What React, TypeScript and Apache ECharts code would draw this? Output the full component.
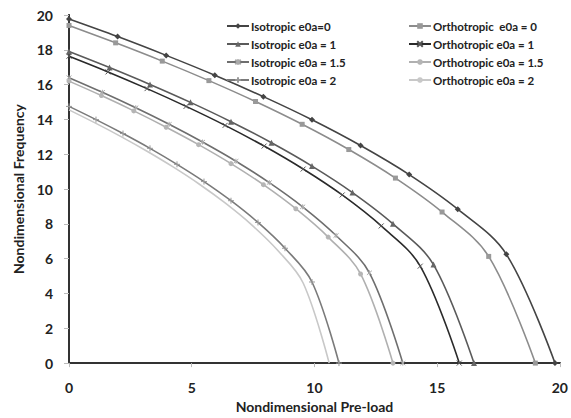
import React, { useEffect, useRef } from "react";
import * as echarts from "echarts";

const isoX0 = [0, 1.98, 3.96, 5.94, 7.92, 9.9, 11.88, 13.86, 15.84, 17.82, 19.8];
const isoY0 = [19.77, 18.76, 17.68, 16.54, 15.31, 13.98, 12.5, 10.83, 8.84, 6.25, 0];
const orthoX0 = [0, 1.9, 3.8, 5.7, 7.6, 9.5, 11.4, 13.3, 15.2, 17.1, 19.0];
const orthoY0 = [19.4, 18.4, 17.35, 16.23, 15.03, 13.72, 12.27, 10.63, 8.68, 6.13, 0];
const isoX1 = [0, 1.65, 3.3, 4.95, 6.6, 8.25, 9.9, 11.55, 13.2, 14.85, 16.5];
const isoY1 = [17.9, 16.98, 16.01, 14.98, 13.87, 12.66, 11.32, 9.8, 8.0, 5.66, 0];
const orthoX1 = [0, 1.59, 3.18, 4.77, 6.36, 7.95, 9.54, 11.13, 12.72, 14.31, 15.9];
const orthoY1 = [17.63, 16.73, 15.77, 14.75, 13.66, 12.47, 11.15, 9.66, 7.88, 5.57, 0];
const isoX15 = [0, 1.36, 2.72, 4.08, 5.44, 6.8, 8.16, 9.52, 10.88, 12.24, 13.6];
const isoY15 = [16.4, 15.56, 14.67, 13.72, 12.7, 11.6, 10.37, 8.98, 7.33, 5.19, 0];
const orthoX15 = [0, 1.32, 2.64, 3.96, 5.28, 6.6, 7.92, 9.24, 10.56, 11.88, 13.2];
const orthoY15 = [16.2, 15.37, 14.49, 13.55, 12.55, 11.46, 10.25, 8.87, 7.24, 5.12, 0];
const isoX2 = [0, 1.1, 2.2, 3.3, 4.4, 5.5, 6.6, 7.7, 8.8, 9.9, 11.0];
const isoY2 = [14.75, 13.99, 13.19, 12.34, 11.42, 10.43, 9.33, 8.08, 6.6, 4.66, 0];
const orthoX2 = [0, 1.06, 2.12, 3.18, 4.24, 5.3, 6.36, 7.42, 8.48, 9.54, 10.6];
const orthoY2 = [14.55, 13.8, 13.01, 12.17, 11.27, 10.29, 9.2, 7.97, 6.51, 4.6, 0];

const isoNames = ["Isotropic e0a=0", "Isotropic e0a = 1", "Isotropic e0a = 1.5", "Isotropic e0a = 2"];
const orthoNames = ["Orthotropic  e0a = 0", "Orthotropic e0a = 1", "Orthotropic e0a = 1.5", "Orthotropic e0a = 2"];

const FONT = "Lato";

const crossPath = "path://M0,0L10,10M10,0L0,10";
const starPath = "path://M0,0L10,10M10,0L0,10M5,-1L5,11";
const plusPath = "path://M5,0L5,10M3,5L7,5";

function pairs(xs: number[], ys: number[]) {
  return xs.map((x, i) => [x, ys[i]]);
}

function mk(name: string, xs: number[], ys: number[], lineColor: string, symbol: string, symColor: string, size: number, stroke = false) {
  return {
    type: "line",
    name,
    data: pairs(xs, ys),
    smooth: 0.35,
    symbol,
    symbolSize: size,
    showSymbol: symbol !== "none",
    lineStyle: { color: lineColor, width: 1.6 },
    itemStyle: stroke
      ? { color: symColor, borderColor: symColor, borderWidth: 1 }
      : { color: symColor, borderWidth: 0 },
    z: 3,
  };
}

export default function App() {
  const ref = useRef<HTMLDivElement>(null);
  useEffect(() => {
    if (!ref.current) return;
    const chart = echarts.init(ref.current, undefined, { renderer: "svg" });
    const legendBase = {
      orient: "vertical",
      top: 20,
      itemWidth: 22,
      itemHeight: 7,
      itemGap: 6,
      textStyle: { fontFamily: FONT, fontWeight: "bold", fontSize: 11.5, color: "#222", padding: [0, 0, 0, -3] },
      padding: 0,
      selectedMode: false,
    };
    chart.setOption({
      animation: false,
      backgroundColor: "#fff",
      grid: { left: 69, right: 8, top: 15, bottom: 49 },
      legend: [
        { ...legendBase, left: 226, data: isoNames },
        { ...legendBase, left: 408, data: orthoNames },
      ],
      xAxis: [
        {
          type: "value",
          min: 0,
          max: 20,
          interval: 5,
          name: "Nondimensional Pre-load",
          nameLocation: "middle",
          nameGap: 31,
          nameTextStyle: { fontFamily: FONT, fontWeight: "bold", fontSize: 14, color: "#222" },
          axisLine: { lineStyle: { color: "#777", width: 2 } },
          axisTick: { show: true, length: 4, lineStyle: { color: "#bbb" } },
          axisLabel: { margin: 17, fontFamily: FONT, fontWeight: "bold", fontSize: 14, color: "#222" },
          splitLine: { show: false },
        },
        {
          type: "value",
          position: "top",
          min: 0,
          max: 20,
          interval: 5,
          axisLine: { show: true, lineStyle: { color: "#333", width: 2 } },
          axisTick: { show: false },
          axisLabel: { show: false },
          splitLine: { show: false },
        },
      ],
      yAxis: [
        {
          type: "value",
          min: 0,
          max: 20,
          interval: 2,
          name: "Nondimensional Frequency",
          nameLocation: "middle",
          nameGap: 44,
          nameTextStyle: { fontFamily: FONT, fontWeight: "bold", fontSize: 14, color: "#222" },
          axisLine: { show: true, lineStyle: { color: "#777", width: 2 } },
          axisTick: { show: true, length: 5, lineStyle: { color: "#bbb" } },
          axisLabel: { margin: 16, fontFamily: FONT, fontWeight: "bold", fontSize: 14, color: "#222" },
          splitLine: { show: false },
        },
        {
          type: "value",
          position: "right",
          min: 0,
          max: 20,
          interval: 2,
          axisLine: { show: true, lineStyle: { color: "#333", width: 2 } },
          axisTick: { show: false },
          axisLabel: { show: false },
          splitLine: { show: false },
        },
      ],
      series: [
        mk(isoNames[0], isoX0, isoY0, "#444", "diamond", "#444", 6),
        mk(isoNames[1], isoX1, isoY1, "#5a5a5a", "triangle", "#666", 6),
        mk(isoNames[2], isoX15, isoY15, "#6e6e6e", starPath, "#aaa", 5, true),
        mk(isoNames[3], isoX2, isoY2, "#7a7a7a", plusPath, "#999", 6, true),
        mk(orthoNames[0], orthoX0, orthoY0, "#8c8c8c", "rect", "#999", 5),
        mk(orthoNames[1], orthoX1, orthoY1, "#2a2a2a", crossPath, "#555", 5, true),
        mk(orthoNames[2], orthoX15, orthoY15, "#b0b0b0", "circle", "#b5b5b5", 5),
        mk(orthoNames[3], orthoX2, orthoY2, "#c8c8c8", "none", "#c8c8c8", 0),
      ],
    });
    return () => chart.dispose();
  }, []);
  return (
    <div
      ref={ref}
      style={{ position: "fixed", left: 0, top: 0, width: 571, height: 418 }}
    />
  );
}
